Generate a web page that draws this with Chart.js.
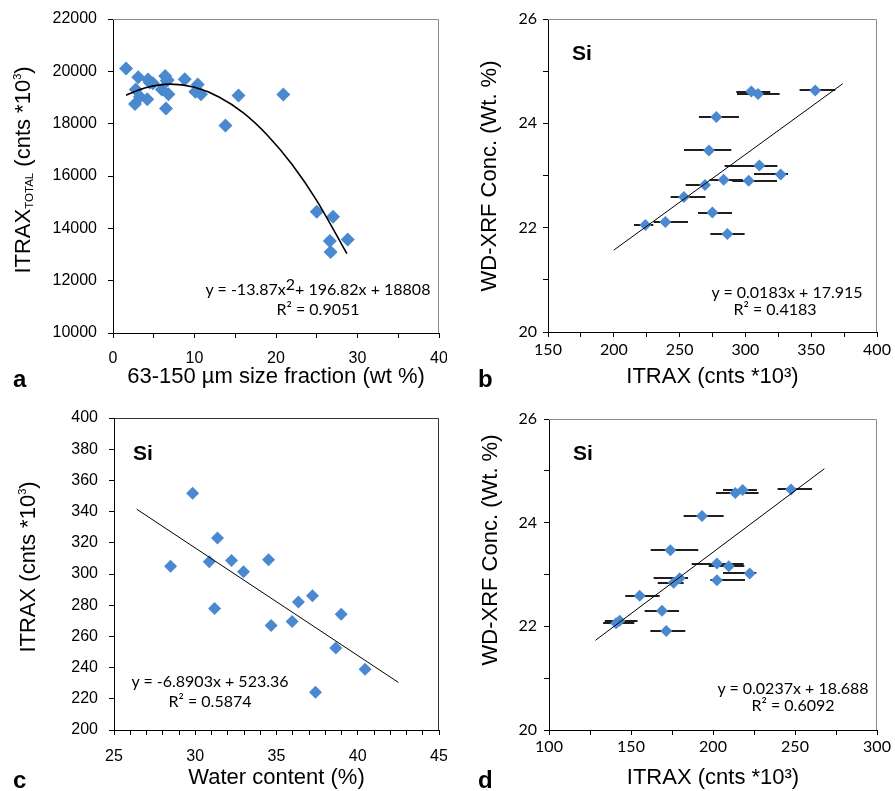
<!DOCTYPE html>
<html>
<head>
<meta charset="utf-8">
<script src="https://cdn.jsdelivr.net/npm/chart.js@4.4.0/dist/chart.umd.min.js"></script>
<style>
body { margin: 0; background: #fff; }
#wrap { position: relative; width: 895px; height: 791px; overflow: hidden; font-family: "Liberation Sans", Arial, sans-serif; color: #000; }
canvas { position: absolute; }
.ytitle { position: absolute; transform: translate(-50%, -50%) rotate(-90deg); white-space: nowrap; font-size: 22px; line-height: 26px; }
.ytitle sup { font-size: 11px; vertical-align: 9px; }
.ytitle sub { font-size: 11.5px; vertical-align: -3px; }
.eq { position: absolute; transform: translateX(-50%); white-space: nowrap; font: 16px Lato, "Open Sans", sans-serif; line-height: 18px; }
.eq .up { position: relative; top: -5px; }
.si { position: absolute; font-weight: bold; font-size: 21px; line-height: 21px; }
.letter { position: absolute; font-weight: bold; font-size: 24px; line-height: 24px; }
</style>
</head>
<body>
<div id="wrap">
  <canvas id="chartA" width="447" height="390" style="left:0;top:0"></canvas>
  <canvas id="chartB" width="448" height="390" style="left:447px;top:0"></canvas>
  <canvas id="chartC" width="447" height="401" style="left:0;top:390px"></canvas>
  <canvas id="chartD" width="448" height="401" style="left:447px;top:390px"></canvas>

  <div class="ytitle" style="left:23px;top:170px">ITRAX<sub>TOTAL</sub> (cnts *10<sup>3</sup>)</div>
  <div class="ytitle" style="left:489px;top:176px">WD-XRF Conc. (Wt. %)</div>
  <div class="ytitle" style="left:25px;top:567px">ITRAX (cnts *10<sup>3</sup>)</div>
  <div class="ytitle" style="left:490px;top:550px">WD-XRF Conc. (Wt. %)</div>

  <div class="eq" style="left:318px;top:280px">y = -13.87x<span class="up">2</span>+ 196.82x + 18808</div>
  <div class="eq" style="left:318px;top:300px">R² = 0.9051</div>
  <div class="eq" style="left:787px;top:283px">y = 0.0183x + 17.915</div>
  <div class="eq" style="left:775px;top:300px">R² = 0.4183</div>
  <div class="eq" style="left:210px;top:672px">y = -6.8903x + 523.36</div>
  <div class="eq" style="left:210px;top:692px">R² = 0.5874</div>
  <div class="eq" style="left:793px;top:679px">y = 0.0237x + 18.688</div>
  <div class="eq" style="left:793px;top:696px">R² = 0.6092</div>

  <div class="si" style="left:572px;top:42px">Si</div>
  <div class="si" style="left:133px;top:442px">Si</div>
  <div class="si" style="left:573px;top:442px">Si</div>

  <div class="letter" style="left:13px;top:367px">a</div>
  <div class="letter" style="left:478px;top:367px">b</div>
  <div class="letter" style="left:13px;top:768px">c</div>
  <div class="letter" style="left:478px;top:768px">d</div>
</div>

<script>
// a: ITRAX total counts vs 63-150 um size fraction
var sizeFraction = [1.6, 3.1, 2.8, 2.7, 3.3, 4.2, 4.3, 4.5, 4.9, 6.0, 6.4, 6.7, 6.8, 6.5, 6.6, 8.8, 10.4, 10.1, 10.8, 15.4, 13.8, 20.9, 25.0, 27.0, 26.6, 26.7, 28.8];
var itraxTotal = [20110, 19770, 19310, 18750, 19030, 18930, 19690, 19570, 19540, 19310, 19820, 19670, 19120, 18580, 19640, 19700, 19500, 19220, 19120, 19080, 17930, 19110, 14630, 14440, 13520, 13100, 13570];
var curveAX = [1.6, 4, 7, 10, 13, 16, 19, 22, 25, 28.7];
var curveAY = [19090, 19370, 19510, 19390, 19020, 18410, 17540, 16430, 15060, 13030];
var labelsAX = [0, 10, 20, 30, 40];
var labelsAY = [10000, 12000, 14000, 16000, 18000, 20000, 22000];

// b: WD-XRF vs ITRAX Si (with x error bars)
var itraxB = [224.0, 239.2, 253.3, 269.3, 272.3, 277.9, 274.9, 286.3, 283.5, 302.5, 310.6, 326.8, 304.5, 309.6, 353.1];
var wdxrfB = [22.05, 22.11, 22.59, 22.82, 23.48, 24.12, 22.29, 21.88, 22.92, 22.90, 23.19, 23.02, 24.61, 24.56, 24.63];
var errLoB = [215.3, 230.3, 243.2, 254.6, 253.3, 264.7, 264.0, 273.4, 272.8, 290.0, 284.2, 306.5, 293.1, 293.6, 341.2];
var errHiB = [230.0, 256.4, 269.6, 272.8, 289.3, 295.1, 289.8, 299.4, 298.0, 324.0, 324.3, 332.4, 318.9, 326.0, 368.3];
var fitBX = [200, 374];
var fitBY = [21.57, 24.76];
var labelsBX = [150, 200, 250, 300, 350, 400];
var labelsBY = [20, 22, 24, 26];

// c: ITRAX Si vs water content
var waterC = [28.48, 29.84, 30.86, 31.37, 31.19, 32.23, 32.97, 34.51, 34.67, 35.96, 36.35, 37.21, 37.40, 38.65, 38.98, 40.45];
var itraxC = [305.0, 351.7, 307.8, 323.0, 277.9, 308.7, 301.4, 309.1, 267.0, 269.5, 282.1, 286.0, 224.2, 252.6, 274.2, 239.0];
var fitCX = [26.4, 42.5];
var fitCY = [341.5, 230.5];
var labelsCX = [25, 30, 35, 40, 45];
var labelsCY = [200, 220, 240, 260, 280, 300, 320, 340, 360, 380, 400];

// d: WD-XRF vs ITRAX Si, corrected (with x error bars)
var itraxD = [140.9, 143.1, 155.3, 168.9, 171.5, 174.0, 176.0, 179.7, 193.3, 202.4, 209.6, 202.4, 222.4, 213.6, 218.1, 247.6];
var wdxrfD = [22.06, 22.11, 22.59, 22.30, 21.91, 23.47, 22.84, 22.93, 24.13, 23.21, 23.16, 22.89, 23.02, 24.57, 24.63, 24.64];
var errLoD = [133.0, 134.0, 146.5, 158.3, 161.8, 162.0, 166.3, 163.8, 182.1, 187.0, 197.4, 198.4, 206.1, 201.8, 206.1, 239.4];
var errHiD = [152.0, 154.0, 167.5, 179.3, 183.1, 191.0, 182.1, 184.8, 206.5, 218.7, 219.1, 219.5, 226.4, 227.8, 226.8, 260.4];
var fitDX = [128.3, 267.9];
var fitDY = [21.73, 25.04];
var labelsDX = [100, 150, 200, 250, 300];
var labelsDY = [20, 22, 24, 26];

var blue = "#4a89d0";

function pairs(xs, ys) {
    return xs.map(function(x, i) { return {x: x, y: ys[i]}; });
}

// top/right frame lines + horizontal error bars
function framePlugin(frameColor, err) {
    return {
        id: "frame",
        beforeDatasetsDraw: function(chart) {
            var a = chart.chartArea, ctx = chart.ctx;
            ctx.save();
            ctx.strokeStyle = frameColor;
            ctx.lineWidth = 1;
            ctx.beginPath();
            ctx.moveTo(a.left, a.top + 0.5);
            ctx.lineTo(a.right - 0.5, a.top + 0.5);
            ctx.lineTo(a.right - 0.5, a.bottom);
            ctx.stroke();
            if (err) {
                var xs = chart.scales.x, ys = chart.scales.y;
                ctx.strokeStyle = "#1e1e1e";
                ctx.lineWidth = 2;
                for (var i = 0; i < err.y.length; i++) {
                    var py = Math.round(ys.getPixelForValue(err.y[i]));
                    ctx.beginPath();
                    ctx.moveTo(xs.getPixelForValue(err.lo[i]), py);
                    ctx.lineTo(xs.getPixelForValue(err.hi[i]), py);
                    ctx.stroke();
                }
            }
            ctx.restore();
        }
    };
}

function scatterChart(id, o) {
    var tickFont = {family: o.tickFamily, size: 16};
    return new Chart(document.getElementById(id), {
        type: "scatter",
        data: {
            datasets: [{
                data: pairs(o.fitX, o.fitY),
                showLine: true,
                borderColor: "#000",
                borderWidth: o.fitWidth,
                pointRadius: 0,
                tension: o.curve ? 0.4 : 0,
                cubicInterpolationMode: o.curve ? "monotone" : "default",
                fill: false
            }, {
                data: pairs(o.x, o.y),
                pointStyle: "rectRot",
                pointRadius: o.r,
                backgroundColor: blue,
                borderWidth: 0
            }]
        },
        options: {
            responsive: false,
            animation: false,
            layout: {padding: {left: 0, top: o.top, right: o.right, bottom: 0}},
            plugins: {legend: {display: false}, tooltip: {enabled: false}},
            scales: {
                x: {
                    type: "linear",
                    position: "bottom",
                    min: o.xMin, max: o.xMax,
                    afterFit: function(s) { s.height = o.xH; s.paddingLeft = 0; s.paddingRight = 0; },
                    border: {color: "#000", width: 1},
                    grid: {drawOnChartArea: false, drawTicks: true, tickLength: 5, color: "#000"},
                    ticks: {
                        stepSize: o.xStep, autoSkip: false, maxRotation: 0, padding: o.xPad,
                        font: tickFont, color: "#000",
                        callback: function(v) { return o.xLabels.indexOf(v) >= 0 ? String(v) : ""; }
                    },
                    title: {display: true, text: o.xTitle, color: "#000", padding: 0,
                            font: {family: "Liberation Sans", size: 22}}
                },
                y: {
                    type: "linear",
                    min: o.yMin, max: o.yMax,
                    afterFit: function(s) { s.width = o.yW; s.paddingTop = 0; s.paddingBottom = 0; },
                    border: {color: "#000", width: 1},
                    grid: {drawOnChartArea: false, drawTicks: true, tickLength: 5, color: "#000"},
                    ticks: {
                        stepSize: o.yStep, autoSkip: false, padding: o.yPad,
                        font: tickFont, color: "#000",
                        callback: function(v) { return o.yLabels.indexOf(v) >= 0 ? String(v) : ""; }
                    }
                }
            }
        },
        plugins: [framePlugin(o.frame, o.err)]
    });
}

scatterChart("chartA", {
    x: sizeFraction, y: itraxTotal, fitX: curveAX, fitY: curveAY, curve: true, fitWidth: 1.6, r: 7,
    xMin: 0, xMax: 40, xStep: 5, xLabels: labelsAX, yMin: 10000, yMax: 22000, yStep: 2000, yLabels: labelsAY,
    top: 19, right: 8, xH: 57, yW: 113, xPad: 11, yPad: 11, tickFamily: "Liberation Sans",
    xTitle: "63-150 µm size fraction (wt %)", frame: "#8c8c8c"
});

scatterChart("chartB", {
    x: itraxB, y: wdxrfB, fitX: fitBX, fitY: fitBY, fitWidth: 1, r: 6,
    xMin: 150, xMax: 400, xStep: 25, xLabels: labelsBX, yMin: 20, yMax: 26, yStep: 1, yLabels: labelsBY,
    top: 19, right: 18, xH: 58, yW: 101, xPad: 3, yPad: 6, tickFamily: "Lato",
    xTitle: "ITRAX (cnts *10³)", frame: "#8c8c8c",
    err: {y: wdxrfB, lo: errLoB, hi: errHiB}
});

scatterChart("chartC", {
    x: waterC, y: itraxC, fitX: fitCX, fitY: fitCY, fitWidth: 1, r: 6.5,
    xMin: 25, xMax: 45, xStep: 1, xLabels: labelsCX, yMin: 200, yMax: 400, yStep: 20, yLabels: labelsCY,
    top: 28, right: 8, xH: 61, yW: 114, xPad: 12, yPad: 11, tickFamily: "Liberation Sans",
    xTitle: "Water content (%)", frame: "#333"
});

scatterChart("chartD", {
    x: itraxD, y: wdxrfD, fitX: fitDX, fitY: fitDY, fitWidth: 1, r: 6,
    xMin: 100, xMax: 300, xStep: 25, xLabels: labelsDX, yMin: 20, yMax: 26, yStep: 1, yLabels: labelsDY,
    top: 29, right: 18, xH: 61, yW: 102, xPad: 2, yPad: 7, tickFamily: "Lato",
    xTitle: "ITRAX (cnts *10³)", frame: "#8c8c8c",
    err: {y: wdxrfD, lo: errLoD, hi: errHiD}
});
</script>
</body>
</html>
